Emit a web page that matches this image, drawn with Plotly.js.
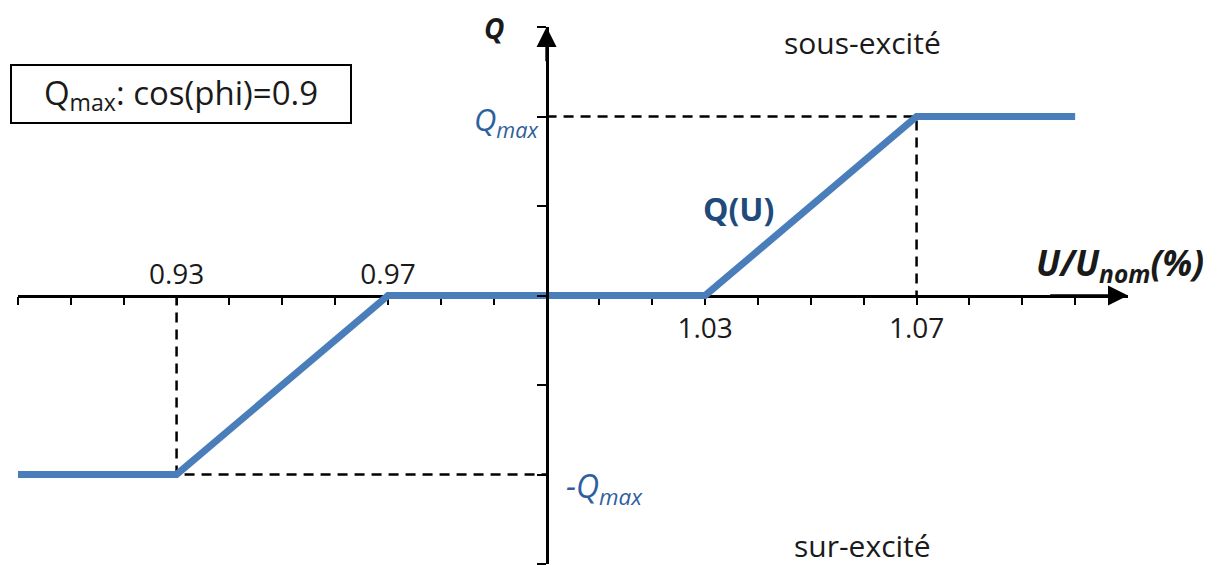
<!DOCTYPE html>
<html>
<head>
<meta charset="utf-8">
<script src="https://cdn.plot.ly/plotly-3.0.1.min.js"></script>
<style>html,body{margin:0;padding:0;background:#fff;}</style>
</head>
<body>
<div id="chart" style="width:1218px;height:565px;"></div>
<script>
// Q(U) characteristic: reactive power (in Qmax units) vs U/Unom
var uPoints = [0.90, 0.93, 0.97, 1.03, 1.07, 1.10];
var qPoints = [-1, -1, 0, 0, 1, 1];

// tick labels placed above / below the horizontal axis
var labelsAbove = [0.93, 0.97];
var labelsBelow = [1.03, 1.07];

var uMin = 0.90, uMax = 1.10, uStep = 0.01;
var uNom = 1.00;
var qLim = 1.5, qStep = 0.5;
var qMax = 1;
var uLow = 0.93, uHigh = 1.07;

var W = 1218, H = 565;
var M = {l: 18, r: 90, t: 27, b: 1};
var xEnd = 1.11;   // room for the arrow head

// pixel -> paper, only used to place the free text
function px(x) { return (x - M.l) / (W - M.l - M.r); }
function py(y) { return (H - M.b - y) / (H - M.t - M.b); }

var xTicks = [];
for (var i = 0; i <= Math.round((uMax - uMin) / uStep); i++) {
    xTicks.push(+(uMin + i * uStep).toFixed(2));
}

var blue = '#4A7EBB';
var textBlue = '#2F5F9E';
var ink = '#1a1a1a';
var font = 'Open Sans, Liberation Sans, sans-serif';

function f(size, color) { return {family: font, size: size, color: color || ink}; }

var guideStyle = {color: '#000', width: 2.5, dash: '10px,7px'};

var guideLow = {
    x: [uLow, uLow, uNom],
    y: [0, -qMax, -qMax],
    mode: 'lines', line: guideStyle, hoverinfo: 'skip'
};
var guideHigh = {
    x: [uNom, uHigh, uHigh],
    y: [qMax, qMax, 0],
    mode: 'lines', line: guideStyle, hoverinfo: 'skip'
};
var curve = {
    x: uPoints,
    y: qPoints,
    mode: 'lines',
    line: {color: blue, width: 7},
    name: 'Q(U)'
};

var axisBase = {
    range: [uMin, xEnd],
    anchor: 'free',
    position: 0.5,
    showgrid: false,
    zeroline: false,
    fixedrange: true
};

function note(x, y, text, font, xanchor) {
    return {x: px(x), y: py(y), xref: 'paper', yref: 'paper', showarrow: false,
            xanchor: xanchor || 'center', yanchor: 'middle', text: text, font: font};
}

var layout = {
    width: W, height: H,
    margin: M,
    showlegend: false,
    plot_bgcolor: '#fff',
    paper_bgcolor: '#fff',
    font: f(20),
    xaxis: Object.assign({}, axisBase, {
        showline: true, linecolor: '#000', linewidth: 2.5,
        ticks: 'outside', tickvals: xTicks, ticklen: 8, tickwidth: 2, tickcolor: '#000',
        showticklabels: false,
        layer: 'below traces'
    }),
    xaxis2: Object.assign({}, axisBase, {
        overlaying: 'x', side: 'bottom',
        showline: false, ticks: 'outside', ticklen: 8, tickcolor: 'rgba(0,0,0,0)',
        tickvals: labelsBelow, ticktext: labelsBelow.map(function (v) { return v.toFixed(2); }),
        tickfont: f(28)
    }),
    xaxis3: Object.assign({}, axisBase, {
        overlaying: 'x', side: 'top',
        showline: false, ticks: '', ticklabelstandoff: 6,
        tickvals: labelsAbove, ticktext: labelsAbove.map(function (v) { return v.toFixed(2); }),
        tickfont: f(28)
    }),
    yaxis: {
        range: [-qLim, qLim],
        anchor: 'free',
        position: (uNom - uMin) / (xEnd - uMin),
        showline: true, linecolor: '#000', linewidth: 2.5,
        ticks: 'outside', dtick: qStep, tick0: 0, ticklen: 9, tickwidth: 2, tickcolor: '#000',
        showticklabels: false,
        showgrid: false, zeroline: false, fixedrange: true,
        layer: 'above traces'
    },
    annotations: [
        // axis arrows
        {x: xEnd, y: 0, ax: uMax - 0.005, ay: 0, xref: 'x', yref: 'y', axref: 'x', ayref: 'y',
         text: '', showarrow: true, arrowhead: 2, arrowsize: 1.6, arrowwidth: 2.5, arrowcolor: '#000'},
        {x: uNom, y: qLim, ax: uNom, ay: qLim - 0.2, xref: 'x', yref: 'y', axref: 'x', ayref: 'y',
         text: '', showarrow: true, arrowhead: 2, arrowsize: 1.6, arrowwidth: 2.5, arrowcolor: '#000'},
        // axis titles
        note(494, 28, '<b><i>Q</i></b>', f(28)),
        note(1206, 264, '<b><i>U/U<sub>nom</sub>(%)</i></b>', f(35), 'right'),
        // Qmax labels
        note(541, 121, '<i>Q<sub>max</sub></i>', f(31, textBlue), 'right'),
        note(564, 488, '<i>-Q<sub>max</sub></i>', f(32, textBlue), 'left'),
        // curve label
        note(738, 208, '<b>Q(U)</b>', f(32, '#1F4A7C')),
        // regions
        note(862, 42, 'sous-excité', f(30)),
        note(862, 545, 'sur-excité', f(30)),
        // boxed note
        {x: px(10), y: py(64), xref: 'paper', yref: 'paper', xanchor: 'left', yanchor: 'top',
         showarrow: false, width: 338, height: 56, borderpad: 0, align: 'center',
         bordercolor: '#000', borderwidth: 2, bgcolor: '#fff',
         text: 'Q<sub>max</sub>: cos(phi)=0.9', font: f(33)}
    ]
};

// invisible traces so the overlay label axes are drawn
var axisHolder2 = {x: [uMin], y: [0], xaxis: 'x2', mode: 'markers', marker: {opacity: 0}, hoverinfo: 'skip'};
var axisHolder3 = {x: [uMin], y: [0], xaxis: 'x3', mode: 'markers', marker: {opacity: 0}, hoverinfo: 'skip'};

Plotly.newPlot('chart', [guideLow, guideHigh, curve, axisHolder2, axisHolder3], layout, {displayModeBar: false});
</script>
</body>
</html>
